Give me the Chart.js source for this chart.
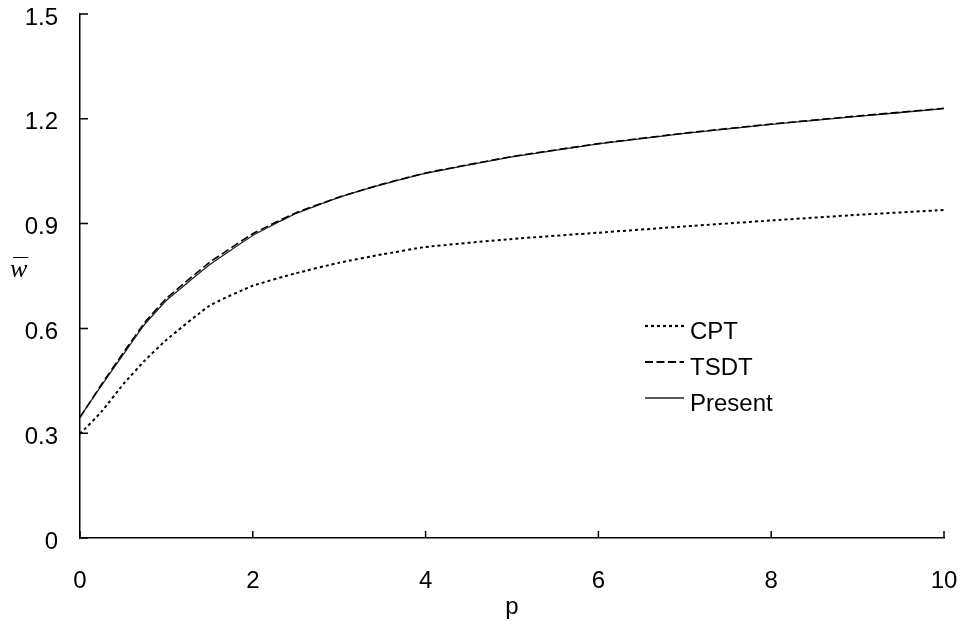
<!DOCTYPE html>
<html>
<head>
<meta charset="utf-8">
<script src="https://cdn.jsdelivr.net/npm/chart.js@4.4.0/dist/chart.umd.min.js"></script>
<style>
html,body{margin:0;padding:0;background:#fff;}
#wrap{width:963px;height:626px;position:relative;}
</style>
</head>
<body>
<div id="wrap"><canvas id="c" width="963" height="626"></canvas></div>
<script>
// ---- data ----
const pValues = [0, 0.25, 0.5, 0.75, 1, 1.5, 2, 2.5, 3, 3.5, 4, 5, 6, 7, 8, 9, 10];
const cptValues = [0.298, 0.362, 0.44, 0.508, 0.567, 0.665, 0.722, 0.758, 0.788, 0.812, 0.833, 0.856, 0.874, 0.892, 0.909, 0.925, 0.939];
const tsdtValues = [0.345, 0.44, 0.53, 0.617, 0.686, 0.789, 0.871, 0.931, 0.976, 1.013, 1.045, 1.092, 1.129, 1.159, 1.185, 1.208, 1.23];
const presentValues = [0.347, 0.437, 0.525, 0.612, 0.68, 0.782, 0.866, 0.929, 0.975, 1.012, 1.044, 1.091, 1.128, 1.158, 1.184, 1.207, 1.229];
const seriesNames = ['CPT', 'TSDT', 'Present'];
const xTickLabels = ['0', '2', '4', '6', '8', '10'];
const yTickLabels = ['0', '0.3', '0.6', '0.9', '1.2', '1.5'];
const xTitle = 'p';
const yTitle = 'w';

const toPts = arr => pValues.map((p, i) => ({x: p, y: arr[i]}));
const FONT = "'Liberation Sans', Arial, sans-serif";

const insideTicks = {
  id: 'insideTicks',
  afterDraw(chart) {
    const ctx = chart.ctx, xs = chart.scales.x, ys = chart.scales.y, ca = chart.chartArea;
    ctx.save();
    ctx.strokeStyle = '#000';
    ctx.lineWidth = 1.5;
    ctx.beginPath();
    for (let i = 0; i < yTickLabels.length; i++) {
      const y = ys.getPixelForValue(i * 0.3);
      ctx.moveTo(ca.left, y); ctx.lineTo(ca.left + 8, y);
    }
    for (let i = 0; i < xTickLabels.length; i++) {
      const x = xs.getPixelForValue(i * 2);
      ctx.moveTo(x, ca.bottom); ctx.lineTo(x, ca.bottom - 7);
    }
    ctx.stroke();

    // y-axis title: italic w with overbar
    ctx.fillStyle = '#000';
    ctx.font = "italic 26px 'Liberation Serif', 'Times New Roman', serif";
    ctx.textAlign = 'left';
    ctx.textBaseline = 'alphabetic';
    const tw = ctx.measureText(yTitle).width;
    const tx = 10, ty = 277;
    ctx.fillText(yTitle, tx, ty);
    ctx.lineWidth = 1;
    ctx.beginPath();
    ctx.moveTo(tx + 3, 257.5); ctx.lineTo(tx + tw + 1, 257.5);
    ctx.stroke();

    // legend
    const ds = chart.data.datasets;
    const lx0 = 645, lx1 = 684, rows = [326, 362, 398];
    ctx.font = '24px ' + FONT;
    ds.forEach((d, i) => {
      ctx.strokeStyle = d.borderColor;
      ctx.lineWidth = d.legendWidth;
      ctx.setLineDash(d.borderDash || []);
      ctx.beginPath();
      ctx.moveTo(lx0, rows[i]); ctx.lineTo(lx1, rows[i]);
      ctx.stroke();
      ctx.setLineDash([]);
      ctx.fillStyle = '#000';
      ctx.fillText(d.label, 690, rows[i] + 12.5);
    });
    ctx.restore();
  }
};

new Chart(document.getElementById('c'), {
  type: 'line',
  data: {
    datasets: [
      {label: seriesNames[0], data: toPts(cptValues), borderColor: '#000', borderWidth: 2, borderDash: [3, 3], legendWidth: 2.2, pointRadius: 0, tension: 0.15, fill: false},
      {label: seriesNames[1], data: toPts(tsdtValues), borderColor: '#000', borderWidth: 1.6, borderDash: [8, 3.5], legendWidth: 2.2, pointRadius: 0, tension: 0.1, fill: false},
      {label: seriesNames[2], data: toPts(presentValues), borderColor: '#222', borderWidth: 1.3, borderDash: [], legendWidth: 1.5, pointRadius: 0, tension: 0.1, fill: false}
    ]
  },
  options: {
    responsive: false,
    animation: false,
    devicePixelRatio: 1,
    layout: {padding: {top: 14, right: 19, left: 0, bottom: 0}, autoPadding: false},
    plugins: {legend: {display: false}, tooltip: {enabled: false}},
    scales: {
      x: {
        type: 'linear', min: 0, max: 10,
        afterFit: s => { s.height = 88; s.paddingLeft = 0; s.paddingRight = 0; },
        afterBuildTicks: s => { s.ticks = xTickLabels.map((t, i) => ({value: i * 2})); },
        ticks: {stepSize: 2, padding: 29, color: '#000', font: {family: FONT, size: 24}, maxRotation: 0,
          callback: (v) => xTickLabels[Math.round(v / 2)]},
        grid: {drawOnChartArea: false, drawTicks: false},
        border: {color: '#000', width: 1.5},
        title: {display: true, text: xTitle, color: '#000', font: {family: FONT, size: 24}, padding: {top: 0, bottom: 4}}
      },
      y: {
        type: 'linear', min: 0, max: 1.5,
        afterFit: s => { s.width = 80; s.paddingTop = 0; s.paddingBottom = 0; },
        afterBuildTicks: s => { s.ticks = yTickLabels.map((t, i) => ({value: i * 0.3})); },
        ticks: {padding: 22, labelOffset: 4, color: '#000', font: {family: FONT, size: 24},
          callback: (v) => yTickLabels[Math.round(v / 0.3)]},
        grid: {drawOnChartArea: false, drawTicks: false},
        border: {color: '#000', width: 1.5}
      }
    }
  },
  plugins: [insideTicks]
});
</script>
</body>
</html>
